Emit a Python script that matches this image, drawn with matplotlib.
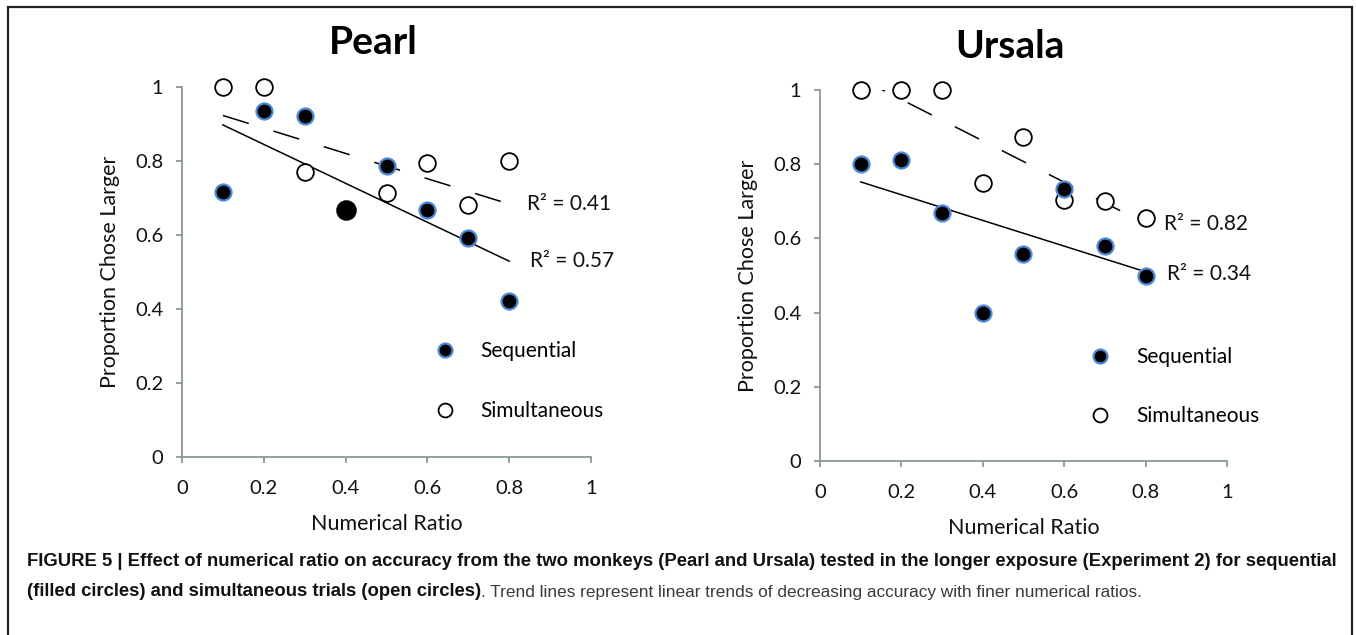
import numpy as np
import matplotlib
matplotlib.use("Agg")
import matplotlib.pyplot as plt
from matplotlib.patches import Rectangle
from matplotlib import font_manager

plt.rcParams['lines.scale_dashes'] = False

# ---------------- data ----------------
ratios = [0.1, 0.2, 0.3, 0.4, 0.5, 0.6, 0.7, 0.8]

pearl_sequential = [0.716, 0.935, 0.922, 0.667, 0.786, 0.667, 0.592, 0.422]
pearl_simultaneous = [1.0, 1.0, 0.770, 0.667, 0.714, 0.795, 0.681, 0.800]

ursala_sequential = [0.800, 0.811, 0.668, 0.400, 0.558, 0.733, 0.579, 0.500]
ursala_simultaneous = [1.0, 1.0, 1.0, 0.749, 0.873, 0.703, 0.700, 0.655]

panel_titles = ["Pearl", "Ursala"]
r2_simultaneous = ["R² = 0.41", "R² = 0.82"]
r2_sequential = ["R² = 0.57", "R² = 0.34"]
tick_values = [0, 0.2, 0.4, 0.6, 0.8, 1]
tick_labels = ["0", "0.2", "0.4", "0.6", "0.8", "1"]
legend_labels = ["Sequential", "Simultaneous"]
x_label = "Numerical Ratio"
y_label = "Proportion Chose Larger"
caption_bold_1 = ("FIGURE 5 | Effect of numerical ratio on accuracy from the two monkeys (Pearl and Ursala) "
                  "tested in the longer exposure (Experiment 2) for sequential")
caption_bold_2 = "(filled circles) and simultaneous trials (open circles)"
caption_normal_2 = ". Trend lines represent linear trends of decreasing accuracy with finer numerical ratios."

# ---------------- style ----------------
W, H = 1356, 635
fig = plt.figure(figsize=(W / 100, H / 100), dpi=100)
FONT = "Lato"
AXCOL = "#8a9898"
BLUE = "#4a88d8"
TXT = "#111111"

fig.add_artist(Rectangle((8 / W, -0.05), (1352 - 8) / W, 1.05 - 7 / H,
                         transform=fig.transFigure, fill=False,
                         edgecolor="#222222", linewidth=1.6))

panels = [
    dict(rect=[182 / W, (H - 457) / H, 409 / W, 370 / H],
         seq=pearl_sequential, sim=pearl_simultaneous,
         title_y=43, r2_sim_pos=(0.843, 0.684), r2_seq_pos=(0.85, 0.53),
         leg_anchor=(0.592, 0.205)),
    dict(rect=[820 / W, (H - 461) / H, 407 / W, 371 / H],
         seq=ursala_sequential, sim=ursala_simultaneous,
         title_y=47, r2_sim_pos=(0.845, 0.64), r2_seq_pos=(0.852, 0.505),
         leg_anchor=(0.638, 0.20)),
]

x = np.array(ratios)
for i, p in enumerate(panels):
    ax = fig.add_axes(p["rect"])
    seq = np.array(p["seq"])
    sim = np.array(p["sim"])
    ax.set_xlim(0, 1)
    ax.set_ylim(0, 1)
    for s in ["top", "right"]:
        ax.spines[s].set_visible(False)
    for s in ["left", "bottom"]:
        ax.spines[s].set_color(AXCOL)
        ax.spines[s].set_linewidth(1.3)
    ax.set_xticks(tick_values)
    ax.set_xticklabels(tick_labels)
    ax.set_yticks(tick_values)
    ax.set_yticklabels(tick_labels)
    ax.tick_params(axis="both", direction="out", length=4.5, width=1.3,
                   color=AXCOL, labelsize=14.5, labelcolor=TXT)
    ax.tick_params(axis="x", pad=12)
    ax.tick_params(axis="y", pad=9)
    for lab in ax.get_xticklabels() + ax.get_yticklabels():
        lab.set_fontfamily(FONT)

    # trend lines (clipped to plot area, as in the original)
    xs = np.array([x.min(), x.max()])
    b_sim = np.polyfit(x, sim, 1)
    b_seq = np.polyfit(x, seq, 1)
    ax.plot(xs, np.polyval(b_sim, xs), color="black", lw=1.1,
            dashes=(19.5, 18.5), clip_on=True, zorder=2)
    ax.plot(xs, np.polyval(b_seq, xs), color="black", lw=1.1,
            clip_on=True, zorder=2)

    # markers
    same = np.isclose(seq, sim)
    ax.plot(x[~same], sim[~same], "o", ms=12, mfc="white", mec="black",
            mew=1.3, clip_on=False, zorder=3, linestyle="none")
    ax.plot(x, seq, "o", ms=11.5, mfc="black", mec=BLUE, mew=1.6,
            clip_on=False, zorder=4, linestyle="none")
    if same.any():
        ax.plot(x[same], seq[same], "o", ms=13.5, mfc="black", mec="black",
                mew=1.3, clip_on=False, zorder=5, linestyle="none")

    # R^2 labels
    ax.text(*p["r2_sim_pos"], r2_simultaneous[i], fontsize=15, family=FONT,
            va="center", ha="left", color=TXT, clip_on=False)
    ax.text(*p["r2_seq_pos"], r2_sequential[i], fontsize=15, family=FONT,
            va="center", ha="left", color=TXT, clip_on=False)

    # legend
    h1, = ax.plot([], [], "o", ms=10, mfc="black", mec=BLUE, mew=1.6, linestyle="none")
    h2, = ax.plot([], [], "o", ms=10, mfc="white", mec="black", mew=1.3, linestyle="none")
    ax.legend([h1, h2], legend_labels, loc="center left",
              bbox_to_anchor=p["leg_anchor"], frameon=False,
              prop=dict(family=FONT, size=15), labelspacing=1.89,
              handletextpad=1.2, handlelength=1.0, borderpad=0)

    ax.set_xlabel(x_label, fontsize=15.5, family=FONT, labelpad=12, color=TXT)
    ax.set_ylabel(y_label, fontsize=15.5, family=FONT, labelpad=11, color=TXT)

    cx = (p["rect"][0] + p["rect"][2] / 2)
    fig.text(cx - 0.01, 1 - p["title_y"] / H, panel_titles[i], fontsize=28,
             fontweight="bold", family=FONT, ha="center", va="center")

# caption
CAPFONT = "Liberation Sans"
available = {f.name for f in font_manager.fontManager.ttflist}
NARROW = "Liberation Sans Narrow" if "Liberation Sans Narrow" in available else CAPFONT
fig.text(27 / W, 1 - 562 / H, caption_bold_1, fontsize=13.3, fontweight="bold",
         family=CAPFONT, ha="left", va="center", color=TXT)
t_b = fig.text(27 / W, 1 - 592 / H, caption_bold_2, fontsize=13.3, fontweight="bold",
               family=CAPFONT, ha="left", va="center", color=TXT)
fig.canvas.draw()
bb = t_b.get_window_extent()
t_n = fig.text(bb.x1 / W, 1 - 592 / H, caption_normal_2, fontsize=13.3 if NARROW != CAPFONT else 12.4,
               family=NARROW, ha="left", va="center", color="#3a3a3a")

fig.savefig("out.png", dpi=100)
